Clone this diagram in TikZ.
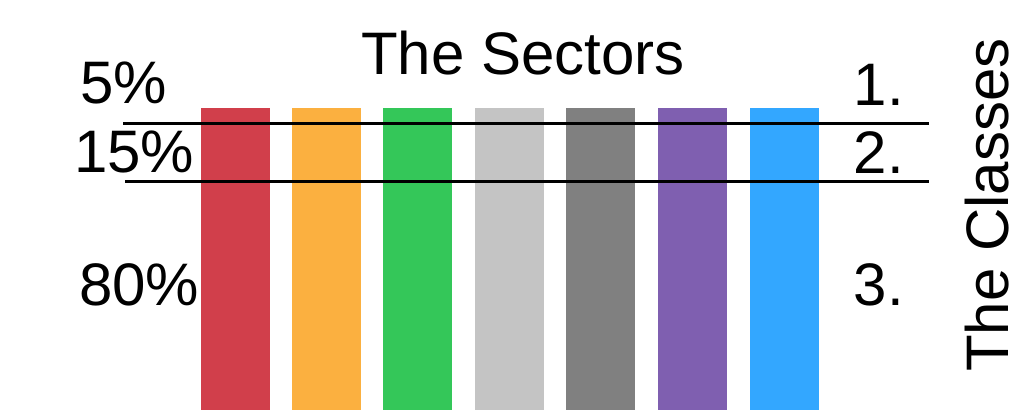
\documentclass[tikz,border=0pt]{standalone}
\usepackage{fontspec}
\setmainfont{Liberation Sans}
\usepackage{tikz}
\definecolor{sred}{RGB}{209,63,75}
\definecolor{sorange}{RGB}{251,176,64}
\definecolor{sgreen}{RGB}{52,199,89}
\definecolor{slight}{RGB}{196,196,196}
\definecolor{sgray}{RGB}{128,128,128}
\definecolor{spurple}{RGB}{127,95,176}
\definecolor{sblue}{RGB}{51,167,255}

\begin{document}
\begin{tikzpicture}[x=1pt,y=-1pt,
  bar/.style={anchor=north west,inner sep=0pt,minimum width=69pt,minimum height=302pt},
  lbl/.style={font=\fontsize{60}{72}\selectfont,inner sep=0pt},
  split/.style={line width=3pt}]
  \useasboundingbox (0,0) rectangle (1023,415);
  \node[bar,fill=sred] (b1) at (201,108) {};
  \node[bar,fill=sorange] (b2) at (291.5,108) {};
  \node[bar,fill=sgreen] (b3) at (383,108) {};
  \node[bar,fill=slight] (b4) at (474.5,108) {};
  \node[bar,fill=sgray] (b5) at (566,108) {};
  \node[bar,fill=spurple] (b6) at (657.5,108) {};
  \node[bar,fill=sblue] (b7) at (750,108) {};
  % class borders
  \coordinate (l1a) at (123,123);
  \coordinate (l1b) at (929,123);
  \coordinate (l2a) at (125,181);
  \coordinate (l2b) at (929,181);
  \draw[split] (l1a) -- (l1b);
  \draw[split] (l2a) -- (l2b);
  \node[lbl,anchor=base] (title) at (523,74) {The Sectors};
  \node[lbl,anchor=base west] (p5) at (80,103) {5\%};
  \node[lbl,anchor=base west] (p15) at (74,172) {15\%};
  \node[lbl,anchor=base west] (p80) at (79,305) {80\%};
  \node[lbl,anchor=base east] (c1) at (904,105) {1.};
  \node[lbl,anchor=base east] (c2) at (904,173) {2.};
  \node[lbl,anchor=base east] (c3) at (904,305) {3.};
  \node[lbl,anchor=base,rotate=90] (side) at (1008,205) {The Classes};
\end{tikzpicture}
\end{document}
